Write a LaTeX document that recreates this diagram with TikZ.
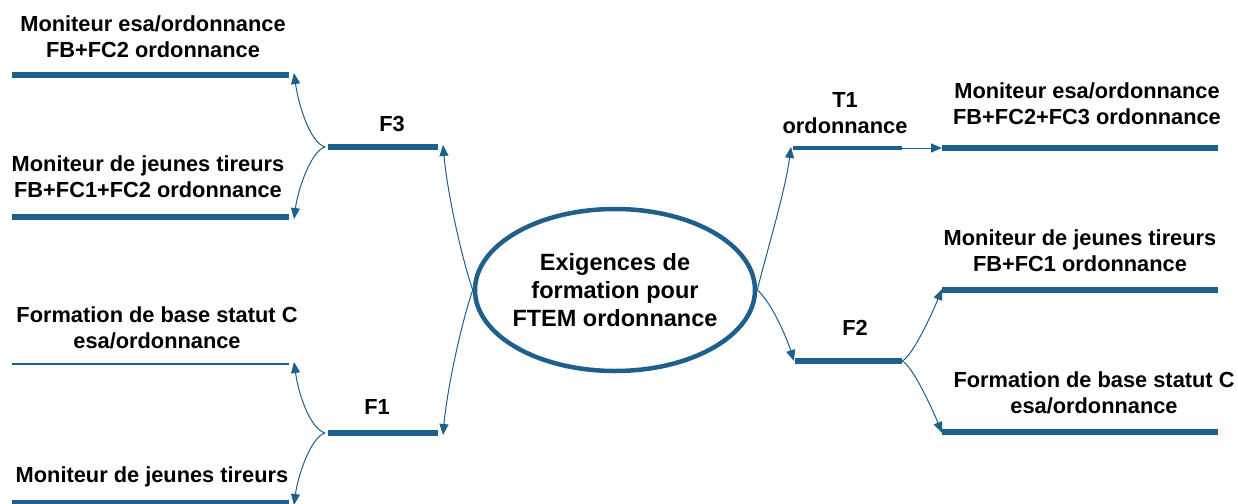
\documentclass[tikz,border=0pt]{standalone}
\usepackage{fontspec}
\setmainfont{Liberation Sans}
\usetikzlibrary{arrows.meta,shapes.geometric}
\definecolor{mb}{RGB}{31,95,140}
\begin{document}
\begin{tikzpicture}[x=1pt,y=-1pt,
  lbl/.style={font=\bfseries\fontsize{21.8}{26}\selectfont, align=center, inner sep=0pt},
  clbl/.style={font=\bfseries\fontsize{23.5}{28}\selectfont, align=center, inner sep=0pt},
  bar/.style={draw=mb, line width=5.5pt},
  midbar/.style={draw=mb, line width=3.5pt},
  thinbar/.style={draw=mb, line width=2.5pt},
  conn/.style={draw=mb, line width=1pt, -{Triangle[length=11pt,width=9pt]}},
]
\useasboundingbox (0,0) rectangle (1238,503);

% centre
\node[ellipse, draw=mb, line width=4.5pt, minimum width=280pt, minimum height=162pt, inner sep=0pt] (c) at (615,290) {};
\node[clbl] (ct) at (c.center) {Exigences de\\formation pour\\FTEM ordonnance};

% coordinates of bars
\coordinate (f3L) at (328,147); \coordinate (f3R) at (438,147);
\coordinate (f1L) at (328,433); \coordinate (f1R) at (438,433);
\coordinate (a1L) at (12,75);  \coordinate (a1R) at (289,75);
\coordinate (a2L) at (12,217); \coordinate (a2R) at (289,217);
\coordinate (a3L) at (12,364); \coordinate (a3R) at (289,364);
\coordinate (a4L) at (12,503); \coordinate (a4R) at (289,503);
\coordinate (t1L) at (793,148); \coordinate (t1R) at (902,148);
\coordinate (f2L) at (795,361); \coordinate (f2R) at (902,361);
\coordinate (b1L) at (942,148); \coordinate (b1R) at (1218,148);
\coordinate (b2L) at (942,290); \coordinate (b2R) at (1218,290);
\coordinate (b3L) at (942,432); \coordinate (b3R) at (1218,432);

% bars
\draw[bar] (f3L) -- (f3R);
\draw[bar] (f1L) -- (f1R);
\draw[bar] (a1L) -- (a1R);
\draw[bar] (a2L) -- (a2R);
\draw[thinbar] (a3L) -- (a3R);
\draw[bar] (a4L) -- (a4R);
\draw[midbar] (t1L) -- (t1R);
\draw[bar] (f2L) -- (f2R);
\draw[bar] (b1L) -- (b1R);
\draw[bar] (b2L) -- (b2R);
\draw[bar] (b3L) -- (b3R);

% connectors
\draw[conn] (c.west) .. controls +(-12,-35) and +(4,45) .. ([xshift=5pt,yshift=2pt]f3R);
\draw[conn] (c.west) .. controls +(-12,35) and +(4,-45) .. ([xshift=5pt,yshift=-2pt]f1R);
\draw[conn] ([xshift=-3pt]f3L) .. controls +(-14,-4) and +(5,35) .. ([xshift=5pt,yshift=2pt]a1R);
\draw[conn] ([xshift=-3pt]f3L) .. controls +(-14,4) and +(4,-30) .. ([xshift=5pt,yshift=-2pt]a2R);
\draw[conn] ([xshift=-3pt]f1L) .. controls +(-14,-4) and +(5,35) .. ([xshift=5pt,yshift=2pt]a3R);
\draw[conn] ([xshift=-3pt]f1L) .. controls +(-14,4) and +(4,-30) .. ([xshift=5pt,yshift=-2pt]a4R);
\draw[conn] (c.east) .. controls +(10,-40) and +(-6,45) .. ([xshift=-2pt,yshift=1pt]t1L);
\draw[conn] (c.east) .. controls +(14,12) and +(-8,-25) .. ([xshift=-1pt]f2L);
\draw[conn] (t1R) -- (b1L);
\draw[conn] (f2R) .. controls +(10,-4) and +(-10,25) .. ([xshift=0pt,yshift=1pt]b2L);
\draw[conn] (f2R) .. controls +(10,4) and +(-10,-25) .. ([xshift=0pt,yshift=-1pt]b3L);

% labels
\node[lbl] (lf3) at (392,124) {F3};
\node[lbl] (lf1) at (377,407) {F1};
\node[lbl] (lf2) at (855,328) {F2};
\node[lbl] (lt1) at (845,113) {T1\\ordonnance};
\node[lbl] (ta1) at (153,37) {Moniteur esa/ordonnance\\FB+FC2 ordonnance};
\node[lbl] (ta2) at (148,177) {Moniteur de jeunes tireurs\\FB+FC1+FC2 ordonnance};
\node[lbl] (ta3) at (157,328) {Formation de base statut C\\esa/ordonnance};
\node[lbl] (ta4) at (152,477) {Moniteur de jeunes tireurs};
\node[lbl] (tb1) at (1087,104) {Moniteur esa/ordonnance\\FB+FC2+FC3 ordonnance};
\node[lbl] (tb2) at (1080,251) {Moniteur de jeunes tireurs\\FB+FC1 ordonnance};
\node[lbl] (tb3) at (1094,393) {Formation de base statut C\\esa/ordonnance};
\end{tikzpicture}
\end{document}
